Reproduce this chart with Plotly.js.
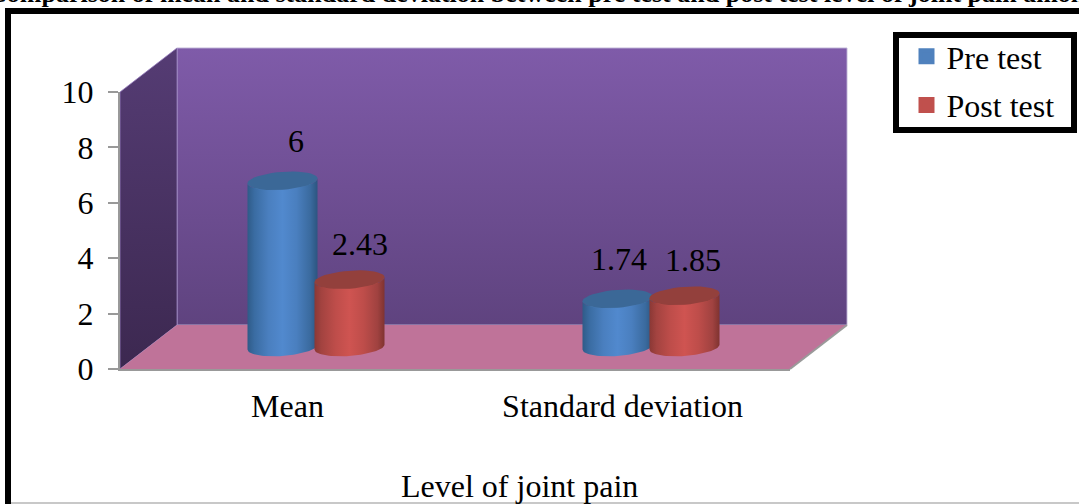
<!DOCTYPE html>
<html><head><meta charset="utf-8">
<script src="https://cdn.plot.ly/plotly-3.0.1.min.js"></script>
<style>html,body{margin:0;padding:0;background:#fff}#c{width:1079px;height:504px}</style>
</head><body><div id="c"></div>
<script>
const categories = ["Mean", "Standard deviation"];
const preTest = [6, 1.74];
const postTest = [2.43, 1.85];
const seriesNames = ["Pre test", "Post test"];
const yTicks = [0, 2, 4, 6, 8, 10];
const chartTitle = "Comparison of mean and standard deviation between pre test and post test level of joint pain among";
const xTitle = "Level of joint pain";

const W = 1079, H = 504;
const front = {l:120, r:790, b:369, t:92};
const depth = {x:57, y:44};
const mid = {x:depth.x/2, y:depth.y/2};
const serif = "Liberation Serif, Times New Roman, serif";
const idx = categories.map((_, i) => i);
const slot = 0.1, rx = 0.1045, ry = 0.325, tilt = 0.09;
const unitPx = (front.b - front.t) / 10;

function arc(cx, cy, from, to) {
  const xs = [], ys = [];
  for (let k = 0; k <= 40; k++) {
    const t = from + (to - from) * k / 40;
    xs.push(cx + rx * Math.cos(t));
    ys.push(cy + ry * Math.sin(t) + tilt * Math.cos(t));
  }
  return [xs, ys];
}
function cylinder(cx, v, stops, cap) {
  const [bx, by] = arc(cx, 0, Math.PI, 2 * Math.PI);
  const [tx, ty] = arc(cx, v, 0, -Math.PI);
  const [cxs, cys] = arc(cx, v, 0, 2 * Math.PI);
  const body = {type:"scatter", mode:"lines", xaxis:"x3", yaxis:"y3", x:bx.concat(tx), y:by.concat(ty),
    fill:"toself", line:{width:0}, cliponaxis:false, hoverinfo:"skip", showlegend:false,
    fillgradient:{type:"horizontal", colorscale:stops}};
  const top = {type:"scatter", mode:"lines", xaxis:"x3", yaxis:"y3", x:cxs, y:cys,
    fill:"toself", line:{width:0}, cliponaxis:false, hoverinfo:"skip", showlegend:false, fillcolor:cap};
  return [body, top];
}
function wall(xs, ys, stops, lineColor) {
  return {type:"scatter", mode:"lines", xaxis:"x", yaxis:"y", x:xs, y:ys, fill:"toself",
    line:{width:lineColor ? 1 : 0, color:lineColor || "rgba(0,0,0,0)"}, hoverinfo:"skip", showlegend:false,
    cliponaxis:false, fillgradient:{type:"vertical", colorscale:stops}};
}
const bx0 = front.l + depth.x, bx1 = front.r + depth.x, by0 = front.b - depth.y, by1 = front.t - depth.y;
const traces = [
  wall([bx0,bx1,bx1,bx0,bx0],[by1,by1,by0,by0,by1],[[0,"#5F437F"],[1,"#7F5BA9"]],"rgba(190,178,214,0.9)"),
  wall([front.l,bx0,bx0,front.l,front.l],[front.t,by1,by0,front.b,front.t],[[0,"#3C2850"],[1,"#553C74"]],"rgba(150,125,190,0.8)"),
  wall([front.l,front.r,bx1,bx0,front.l],[front.b,front.b,by0,by0,front.b],[[0,"#BF7399"],[1,"#BF7399"]],null),
  {type:"scatter", mode:"lines", xaxis:"x", yaxis:"y", x:[front.r,bx1], y:[front.b,by0], line:{color:"#9a9a9a",width:2}, hoverinfo:"skip", showlegend:false, cliponaxis:false},
  {type:"scatter", mode:"lines", xaxis:"x2", yaxis:"y2", x:[null], y:[null], hoverinfo:"skip", showlegend:false},
  {type:"bar", name:seriesNames[0], xaxis:"x3", yaxis:"y3", x:idx, y:preTest, width:0.16, legendgroup:"a",
    marker:{color:"#4F81BD", line:{color:"#4F81BD", width:4}}},
  {type:"bar", name:seriesNames[1], xaxis:"x3", yaxis:"y3", x:idx, y:postTest, width:0.16, legendgroup:"b",
    marker:{color:"#C0504D", line:{color:"#C0504D", width:4}}}
];
const blueStops = [[0,"#2F5B88"],[0.1,"#3A6CA2"],[0.3,"#4A7FBF"],[0.5,"#5189CE"],[0.7,"#4A7FBF"],[0.9,"#3A6A9E"],[1,"#2C5580"]];
const redStops = [[0,"#8A3835"],[0.1,"#A34340"],[0.3,"#BE4D4A"],[0.5,"#CF5451"],[0.7,"#BE4D4A"],[0.9,"#A04240"],[1,"#7F3330"]];
idx.forEach(i => traces.push(...cylinder(i - slot, preTest[i], blueStops, "#3B6897")));
idx.forEach(i => traces.push(...cylinder(i + slot, postTest[i], redStops, "#93403C")));

const shifts = [[[13.5, 40],[10, 36]],[[1, 40],[8, 36]]];
const annotations = [];
idx.forEach(i => {
  [[preTest, -slot, 0],[postTest, slot, 1]].forEach(([arr, off, s]) => {
    annotations.push({xref:"x3", yref:"y3", x:i+off, y:arr[i], text:String(arr[i]), showarrow:false,
      xshift:shifts[i][s][0], yshift:shifts[i][s][1], xanchor:"center", yanchor:"middle",
      font:{family:serif, size:32, color:"#000"}});
  });
});
annotations.push({xref:"paper", yref:"paper", x:-14/W, y:1-10.5/H, xanchor:"left", yanchor:"bottom",
  text:"<b>"+chartTitle+"</b>", showarrow:false, font:{family:serif,size:26,color:"#000"}});
annotations.push({xref:"paper", yref:"paper", x:519/W, y:1-486/H, xanchor:"center", yanchor:"middle",
  text:xTitle, showarrow:false, font:{family:serif,size:32,color:"#000"}});

const border = "#000";
const shapes = [
  {type:"line", xref:"paper", yref:"paper", x0:8/W, x1:8/W, y0:0, y1:1-8/H, line:{color:border,width:6}},
  {type:"line", xref:"paper", yref:"paper", x0:5/W, x1:1, y0:1-11/H, y1:1-11/H, line:{color:border,width:6}},
  {type:"line", xref:"paper", yref:"paper", x0:11/W, x1:1, y0:1/H, y1:1/H, line:{color:"#c8c8c8",width:2}},
  {type:"rect", xref:"paper", yref:"paper", x0:896/W, x1:1074/W, y0:1-35/H, y1:1-130/H, fillcolor:"#fff", line:{color:border,width:6}}
];
const layout = {
  width:W, height:H, margin:{l:0,r:0,t:0,b:0}, paper_bgcolor:"#fff", plot_bgcolor:"rgba(0,0,0,0)",
  barmode:"group", bargap:0.6, showlegend:true,
  legend:{x:906.5/W, y:1-29/H, xanchor:"left", yanchor:"top", borderwidth:0, bgcolor:"rgba(0,0,0,0)",
    itemwidth:30, tracegroupgap:4, traceorder:"grouped", font:{family:serif,size:32,color:"#000"}, itemclick:false, itemdoubleclick:false},
  xaxis:{domain:[0,1], range:[0,W], visible:false, fixedrange:true},
  yaxis:{domain:[0,1], range:[H,0], visible:false, fixedrange:true},
  xaxis2:{domain:[front.l/W, front.r/W], range:[-0.5,1.5], anchor:"y2", tickvals:idx, ticktext:categories, ticks:"",
    showgrid:false, zeroline:false, showline:true, linecolor:"#999", linewidth:2, ticklabelstandoff:8,
    tickfont:{family:serif,size:32,color:"#000"}},
  yaxis2:{domain:[1-front.b/H, 1-front.t/H], range:[0,10], anchor:"x2", tickvals:yTicks, ticks:"outside", ticklen:10, tickwidth:2,
    tickcolor:"#999", showgrid:false, zeroline:false, showline:true, linecolor:"#999", linewidth:2, ticklabelstandoff:8,
    tickfont:{family:serif,size:32,color:"#000"}},
  xaxis3:{domain:[(front.l+mid.x)/W,(front.r+mid.x)/W], range:[-0.5,1.5], anchor:"y3", visible:false, fixedrange:true},
  yaxis3:{domain:[1-(front.b-mid.y+unitPx)/H,1-(front.t-mid.y)/H], range:[-1,10], anchor:"x3", visible:false, fixedrange:true},
  annotations, shapes
};
Plotly.newPlot("c", traces, layout, {displayModeBar:false});
</script></body></html>
